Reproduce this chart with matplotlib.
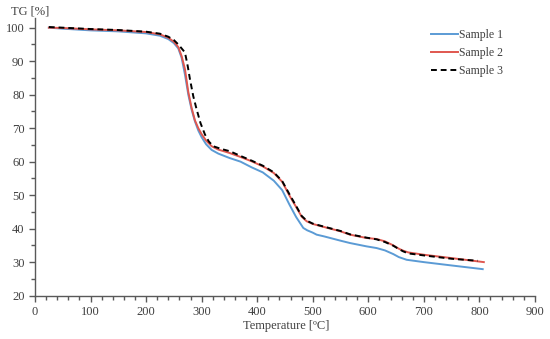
import numpy as np
import matplotlib.pyplot as plt
from matplotlib.ticker import MultipleLocator

# === DATI ===
t1 = [25, 50, 100, 150, 200, 225, 240, 250, 258, 264, 270, 276, 282, 288, 294, 300,
      308, 318, 330, 350, 370, 390, 410, 430, 445, 458, 470, 483, 490, 500, 507, 520,
      550, 567, 597, 615, 630, 645, 655, 669, 700, 750, 806]
tg1 = [100, 99.7, 99.2, 98.9, 98.3, 97.6, 96.6, 95.4, 93.8, 91, 86, 80, 75.5, 72.0, 69.3, 67.3,
       65.2, 63.5, 62.4, 61.1, 60.0, 58.3, 56.8, 54.3, 51.5, 47.2, 43.5, 40.2, 39.5, 38.8, 38.2, 37.7,
       36.4, 35.7, 34.7, 34.2, 33.5, 32.4, 31.5, 30.7, 30.0, 29.0, 27.9]

t2 = [25, 50, 100, 150, 200, 225, 240, 250, 258, 264, 270, 276, 282, 288, 294, 300,
      308, 318, 330, 350, 370, 390, 410, 430, 445, 459, 470, 480, 489, 500, 520, 550,
      567, 597, 615, 630, 645, 655, 663, 672, 700, 750, 808]
tg2 = [100, 99.9, 99.5, 99.2, 98.7, 98.0, 97.0, 95.8, 94.2, 91.5, 87.6, 80.8, 76.0, 72.3, 70.0, 68.2,
       66.3, 64.6, 63.6, 62.6, 61.4, 60.1, 58.6, 56.6, 54.0, 49.6, 46.5, 43.6, 42.2, 41.4, 40.5, 39.2,
       38.2, 37.2, 36.9, 36.2, 35.0, 34.0, 33.4, 32.9, 32.2, 31.2, 30.0]

t3 = [25, 50, 100, 150, 200, 225, 240, 250, 258, 264, 270, 275, 279, 285, 291, 298,
      306, 313, 321, 335, 351, 370, 390, 410, 430, 445, 459, 470, 480, 489, 500, 520,
      550, 567, 597, 615, 630, 645, 655, 663, 672, 700, 750, 797]
tg3 = [100.2, 100, 99.6, 99.3, 98.8, 98.2, 97.3, 96.3, 95.0, 93.8, 92.6, 88.5, 84.6, 79.5, 75.6, 71.5,
       68.1, 66.0, 64.6, 63.8, 63.1, 61.7, 60.3, 58.8, 56.8, 54.2, 50.0, 46.8, 43.8, 42.4, 41.5, 40.6,
       39.3, 38.3, 37.3, 36.8, 36.0, 34.9, 33.9, 33.2, 32.6, 32.0, 31.0, 30.4]

# === FIGURA ===
plt.rcParams['font.family'] = ['Liberation Serif', 'DejaVu Serif']
fig = plt.figure(figsize=(5.5, 3.39), dpi=100)
ax = fig.add_axes([0.0636, 0.128, 0.909, 0.82])

ax.plot(t1, tg1, color='#5B9BD5', lw=1.4, label='Sample 1')
ax.plot(t2, tg2, color='#E0574F', lw=1.4, label='Sample 2')
ax.plot(t3, tg3, color='black', lw=1.4, ls=(0, (3, 2)), label='Sample 3')

ax.set_xlim(0, 900)
ax.set_ylim(20, 103)
ax.set_xticks(np.arange(0, 901, 100))
ax.set_yticks(np.arange(20, 101, 10))
ax.xaxis.set_minor_locator(MultipleLocator(20))
ax.yaxis.set_minor_locator(MultipleLocator(5))

for s in ['top', 'right']:
    ax.spines[s].set_visible(False)
for s in ['left', 'bottom']:
    ax.spines[s].set_color('#595959')
    ax.spines[s].set_linewidth(1.0)
ax.tick_params(which='both', direction='out', color='#595959', labelcolor='#404040', labelsize=9)
ax.tick_params(which='major', length=4, width=1)
ax.tick_params(which='minor', length=3, width=1)

fig.text(0.52, 0.022, 'Temperature [ºC]', ha='center', va='bottom', fontsize=9, color='#404040')
fig.text(0.02, 0.965, 'TG [%]', ha='left', va='center', fontsize=9, color='#404040')

leg = ax.legend(loc='upper right', bbox_to_anchor=(0.958, 0.997), frameon=False, fontsize=8.5,
                handlelength=2.3, handletextpad=0.1, labelspacing=0.5)
for txt in leg.get_texts():
    txt.set_color('#404040')

fig.savefig('out.png', dpi=100)
